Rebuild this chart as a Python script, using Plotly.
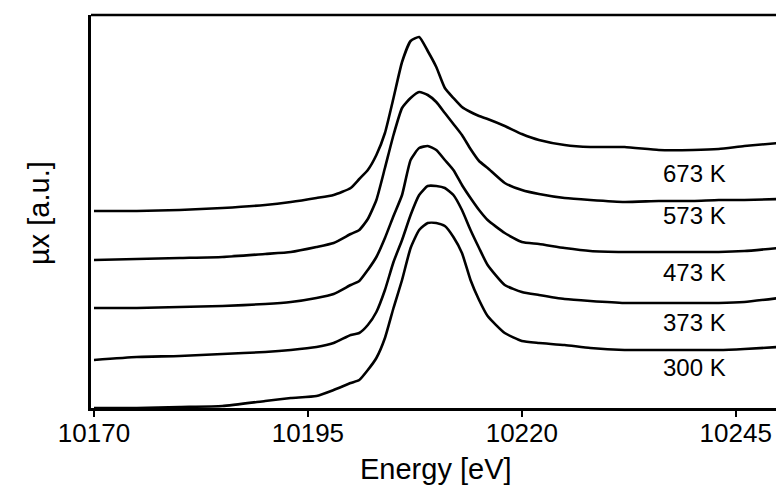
import plotly.graph_objects as go

# ---- data ----
energy = [10170, 10175, 10180, 10185, 10190, 10193, 10196, 10198, 10200, 10201,
          10202, 10203, 10204, 10205, 10206, 10207, 10208, 10209, 10210, 10211,
          10212, 10213, 10214, 10215, 10216, 10218, 10220, 10222, 10225, 10228,
          10232, 10236, 10240, 10243, 10246, 10250]

mu_300K = [0.00, 0.00, 0.01, 0.02, 0.07, 0.10, 0.12, 0.18, 0.25, 0.28,
           0.38, 0.50, 0.70, 1.00, 1.28, 1.60, 1.78, 1.85, 1.85, 1.82,
           1.71, 1.55, 1.28, 1.08, 0.92, 0.75, 0.67, 0.65, 0.63, 0.60,
           0.58, 0.58, 0.58, 0.58, 0.59, 0.61]

mu_373K = [0.48, 0.51, 0.52, 0.54, 0.56, 0.58, 0.61, 0.65, 0.73, 0.75,
           0.83, 0.96, 1.18, 1.46, 1.68, 1.93, 2.13, 2.22, 2.22, 2.20,
           2.13, 1.98, 1.78, 1.60, 1.43, 1.23, 1.16, 1.13, 1.09, 1.07,
           1.05, 1.05, 1.05, 1.05, 1.06, 1.10]

mu_473K = [1.00, 1.00, 1.01, 1.02, 1.04, 1.06, 1.10, 1.14, 1.23, 1.27,
           1.38, 1.51, 1.70, 1.92, 2.13, 2.48, 2.60, 2.62, 2.58, 2.48,
           2.38, 2.23, 2.10, 1.98, 1.88, 1.75, 1.66, 1.64, 1.60, 1.57,
           1.56, 1.56, 1.56, 1.56, 1.57, 1.60]

mu_573K = [1.48, 1.49, 1.50, 1.51, 1.54, 1.56, 1.61, 1.65, 1.74, 1.78,
           1.89, 2.08, 2.40, 2.73, 3.00, 3.10, 3.16, 3.13, 3.06, 2.95,
           2.84, 2.73, 2.59, 2.47, 2.40, 2.25, 2.18, 2.14, 2.10, 2.08,
           2.06, 2.07, 2.07, 2.08, 2.08, 2.09]

mu_673K = [1.97, 1.97, 1.98, 2.00, 2.03, 2.06, 2.10, 2.13, 2.20, 2.29,
           2.38, 2.53, 2.75, 3.10, 3.46, 3.67, 3.71, 3.57, 3.41, 3.20,
           3.10, 3.01, 2.96, 2.92, 2.89, 2.82, 2.74, 2.68, 2.63, 2.61,
           2.61, 2.58, 2.58, 2.59, 2.62, 2.65]

series = [mu_300K, mu_373K, mu_473K, mu_573K, mu_673K]
labels = ["300 K", "373 K", "473 K", "573 K", "673 K"]
label_y = [0.41, 0.86, 1.36, 1.93, 2.35]
label_x = 10240.2

x_ticks = [10170, 10195, 10220, 10245]

FONT = "Liberation Sans, Arial, sans-serif"

fig = go.Figure()
for vals, name in zip(series, labels):
    fig.add_trace(go.Scatter(x=energy, y=vals, mode="lines", name=name,
                             line=dict(color="black", width=2.6,
                                       shape="spline", smoothing=0.5),
                             showlegend=False, hoverinfo="skip"))

for name, ly in zip(labels, label_y):
    fig.add_annotation(x=label_x, y=ly, text=name, showarrow=False,
                       xanchor="center", yanchor="middle",
                       font=dict(family=FONT, size=24, color="black"))

fig.add_annotation(xref="paper", yref="paper", x=(436 - 91) / 685,
                   y=(408 - 469) / 393, text="Energy [eV]", showarrow=False,
                   xanchor="center", yanchor="middle",
                   font=dict(family=FONT, size=29, color="black"))
fig.add_annotation(xref="paper", yref="paper", x=(39 - 91) / 685,
                   y=(408 - 213) / 393, text="µx [a.u.]", showarrow=False,
                   textangle=-90, xanchor="center", yanchor="middle",
                   font=dict(family=FONT, size=29, color="black"))

# top frame line
fig.add_shape(type="line", xref="paper", yref="paper", x0=0, x1=1, y0=1, y1=1,
              line=dict(color="black", width=2.5))

fig.update_layout(
    width=776, height=489,
    margin=dict(l=91, r=0, t=15, b=81),
    paper_bgcolor="white", plot_bgcolor="white",
    font=dict(family=FONT, color="black"),
)
fig.update_xaxes(range=[10169.65, 10249.7], tickmode="array", tickvals=x_ticks,
                 ticktext=[str(t) for t in x_ticks],
                 ticks="outside", ticklen=6, tickwidth=1.5, tickcolor="black",
                 ticklabelstandoff=-6,
                 tickfont=dict(family=FONT, size=26, color="black"),
                 showline=True, linecolor="black", linewidth=2.5,
                 showgrid=False, zeroline=False)
fig.update_yaxes(range=[0, 3.93], showticklabels=False, ticks="",
                 showline=True, linecolor="black", linewidth=2.5,
                 showgrid=False, zeroline=False)

fig.write_html("out.html")
